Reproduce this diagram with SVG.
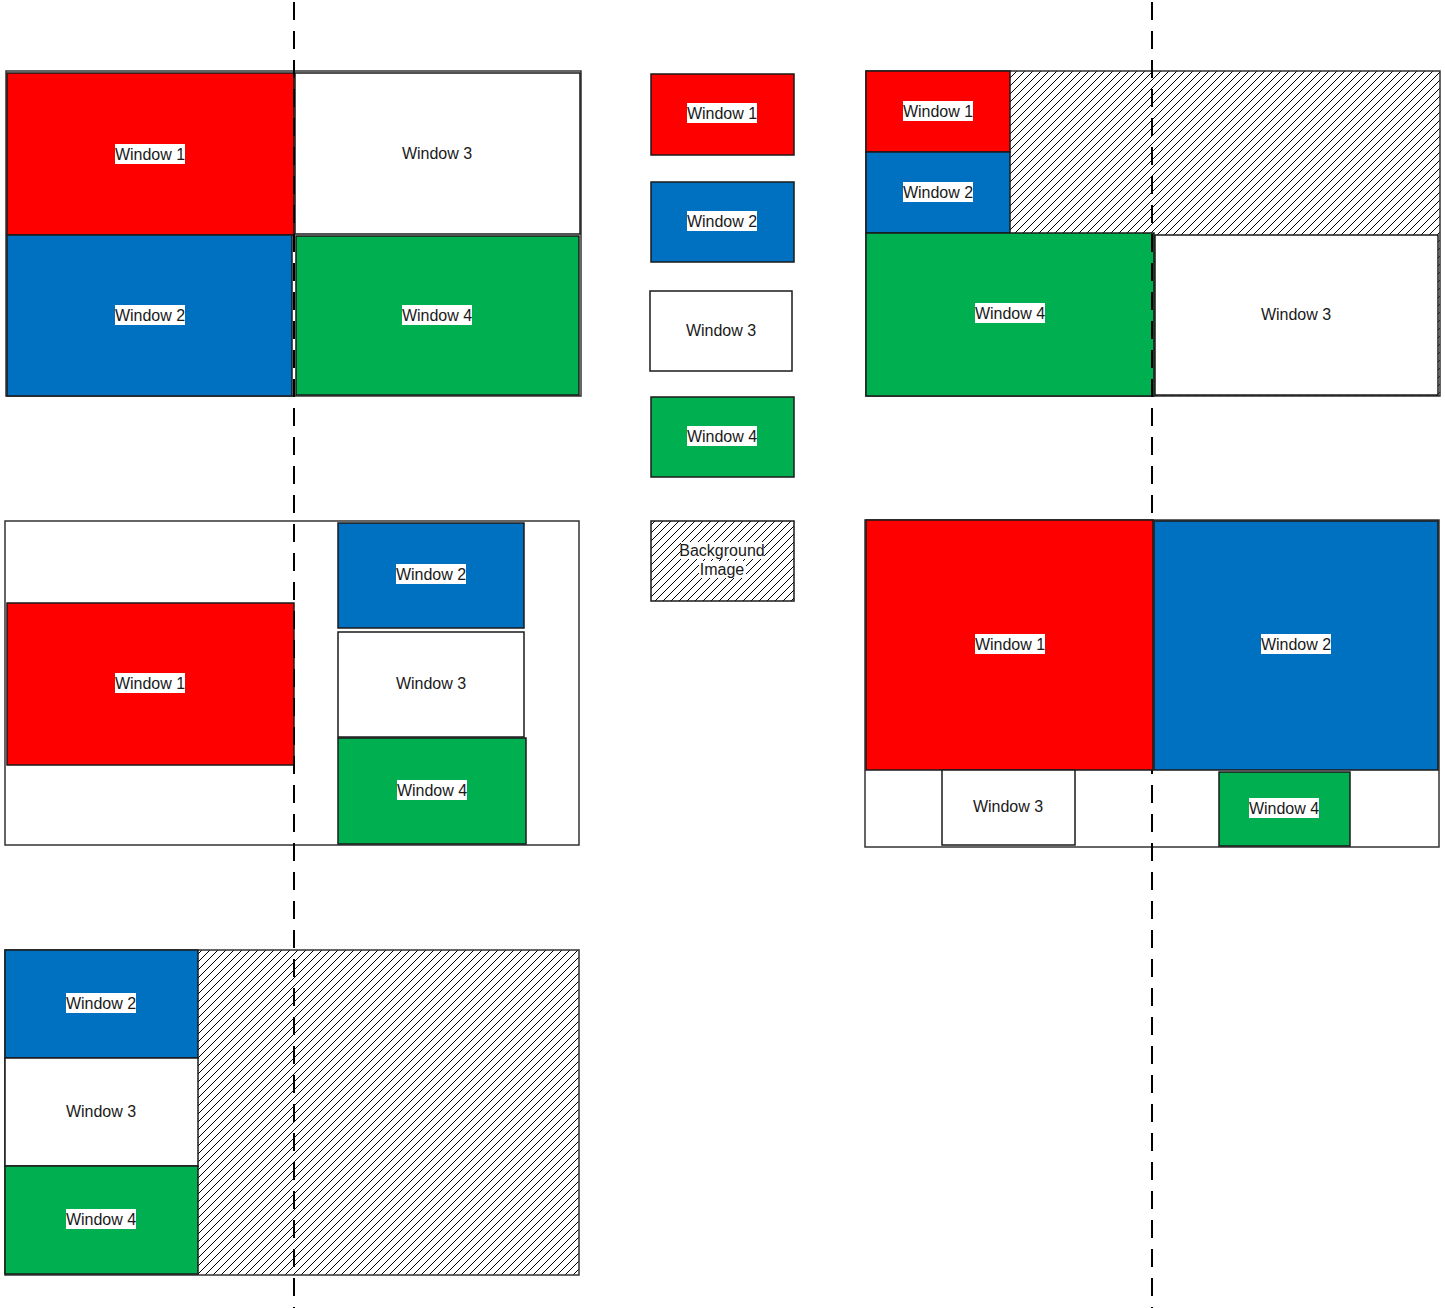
<svg xmlns="http://www.w3.org/2000/svg" width="1445" height="1308" viewBox="0 0 1445 1308">
<style>
.panel{fill:#fff;stroke:#333;stroke-width:1.5}
.hatch{fill:url(#hatch);stroke:#333;stroke-width:1.5}
.win{stroke:#1a1a1a;stroke-width:1.5}
.r{fill:#FF0000}.b{fill:#0070C0}.g{fill:#00B050}.w{fill:#fff}
.lbl{font-family:"Liberation Sans",Arial,sans-serif;font-size:16px;fill:#1a1a1a;text-anchor:middle}
.lb{fill:#fff}
.guide{stroke:#000;stroke-width:2;stroke-dasharray:18 11;fill:none}
</style>
<defs>
<pattern id="hatch" patternUnits="userSpaceOnUse" width="8" height="8">
<rect width="8" height="8" fill="#fff"/>
<path d="M-2,2 L2,-2 M0,8 L8,0 M6,10 L10,6" stroke="#000" stroke-width="1"/>
</pattern>
</defs>

<g id="panels">
<rect id="panel-tl" class="panel" x="6" y="71" width="575" height="325"/>
<rect id="panel-tr" class="hatch" x="866" y="71" width="574" height="325"/>
<rect id="panel-ml" class="panel" x="5" y="521" width="574" height="324"/>
<rect id="panel-mr" class="panel" x="865" y="520" width="574" height="327"/>
<rect id="panel-bl" class="hatch" x="5" y="950" width="574" height="325"/>
</g>

<!-- Top-left panel -->
<g id="tl-w1"><rect class="win r" x="7" y="73" width="287" height="162"/><rect class="lb" x="115" y="144" width="70" height="20"/><text class="lbl" x="150" y="160">Window 1</text></g>
<g id="tl-w3"><rect class="win w" x="295" y="73" width="285" height="161"/><text class="lbl" x="437" y="159">Window 3</text></g>
<g id="tl-w2"><rect class="win b" x="7" y="235" width="285" height="161"/><rect class="lb" x="115" y="305" width="70" height="20"/><text class="lbl" x="150" y="321">Window 2</text></g>
<g id="tl-w4"><rect class="win g" x="296" y="236" width="283" height="159"/><rect class="lb" x="402" y="305" width="70" height="20"/><text class="lbl" x="437" y="321">Window 4</text></g>

<!-- Legend -->
<g id="legend-w1"><rect class="win r" x="651" y="74" width="143" height="81"/><rect class="lb" x="687" y="103" width="70" height="20"/><text class="lbl" x="722" y="119">Window 1</text></g>
<g id="legend-w2"><rect class="win b" x="651" y="182" width="143" height="80"/><rect class="lb" x="687" y="211" width="70" height="20"/><text class="lbl" x="722" y="227">Window 2</text></g>
<g id="legend-w3"><rect class="win w" x="650" y="291" width="142" height="80"/><text class="lbl" x="721" y="336">Window 3</text></g>
<g id="legend-w4"><rect class="win g" x="651" y="397" width="143" height="80"/><rect class="lb" x="687" y="426" width="70" height="20"/><text class="lbl" x="722" y="442">Window 4</text></g>
<g id="legend-bg"><rect class="win" fill="url(#hatch)" x="651" y="521" width="143" height="80"/><rect class="lb" x="681" y="542" width="83" height="17"/><rect class="lb" x="699" y="561" width="47" height="17"/><text class="lbl" x="722" y="556">Background</text><text class="lbl" x="722" y="575">Image</text></g>

<!-- Top-right panel -->
<g id="tr-w1"><rect class="win r" x="866" y="71" width="144" height="81"/><rect class="lb" x="903" y="101" width="70" height="20"/><text class="lbl" x="938" y="117">Window 1</text></g>
<g id="tr-w2"><rect class="win b" x="866" y="152" width="144" height="81"/><rect class="lb" x="903" y="182" width="70" height="20"/><text class="lbl" x="938" y="198">Window 2</text></g>
<g id="tr-w4"><rect class="win g" x="866" y="233" width="288" height="163"/><rect class="lb" x="975" y="303" width="70" height="20"/><text class="lbl" x="1010" y="319">Window 4</text></g>
<g id="tr-w3"><rect class="win w" x="1155" y="235" width="283" height="160"/><text class="lbl" x="1296" y="320">Window 3</text></g>

<!-- Middle-left panel -->
<g id="ml-w1"><rect class="win r" x="7" y="603" width="287" height="162"/><rect class="lb" x="115" y="673" width="70" height="20"/><text class="lbl" x="150" y="689">Window 1</text></g>
<g id="ml-w2"><rect class="win b" x="338" y="523" width="186" height="105"/><rect class="lb" x="396" y="564" width="70" height="20"/><text class="lbl" x="431" y="580">Window 2</text></g>
<g id="ml-w3"><rect class="win w" x="338" y="632" width="186" height="105"/><text class="lbl" x="431" y="689">Window 3</text></g>
<g id="ml-w4"><rect class="win g" x="338" y="738" width="188" height="106"/><rect class="lb" x="397" y="780" width="70" height="20"/><text class="lbl" x="432" y="796">Window 4</text></g>

<!-- Bottom-left panel -->
<g id="bl-w2"><rect class="win b" x="5" y="950" width="193" height="108"/><rect class="lb" x="66" y="993" width="70" height="20"/><text class="lbl" x="101" y="1009">Window 2</text></g>
<g id="bl-w3"><rect class="win w" x="5" y="1058" width="193" height="108"/><text class="lbl" x="101" y="1117">Window 3</text></g>
<g id="bl-w4"><rect class="win g" x="5" y="1166" width="193" height="108"/><rect class="lb" x="66" y="1209" width="70" height="20"/><text class="lbl" x="101" y="1225">Window 4</text></g>

<g id="guides">
<line class="guide" x1="294" y1="2" x2="294" y2="1308"/>
<line class="guide" x1="1152" y1="2" x2="1152" y2="1308"/>
</g>

<!-- Middle-right panel -->
<g id="mr-w1"><rect class="win r" x="866" y="520" width="287" height="250"/><rect class="lb" x="975" y="634" width="70" height="20"/><text class="lbl" x="1010" y="650">Window 1</text></g>
<g id="mr-w2"><rect class="win b" x="1154" y="521" width="284" height="249"/><rect class="lb" x="1261" y="634" width="70" height="20"/><text class="lbl" x="1296" y="650">Window 2</text></g>
<g id="mr-w3"><rect class="win w" x="942" y="770" width="133" height="75"/><text class="lbl" x="1008" y="812">Window 3</text></g>
<g id="mr-w4"><rect class="win g" x="1219" y="772" width="131" height="74"/><rect class="lb" x="1249" y="798" width="70" height="20"/><text class="lbl" x="1284" y="814">Window 4</text></g>
</svg>
